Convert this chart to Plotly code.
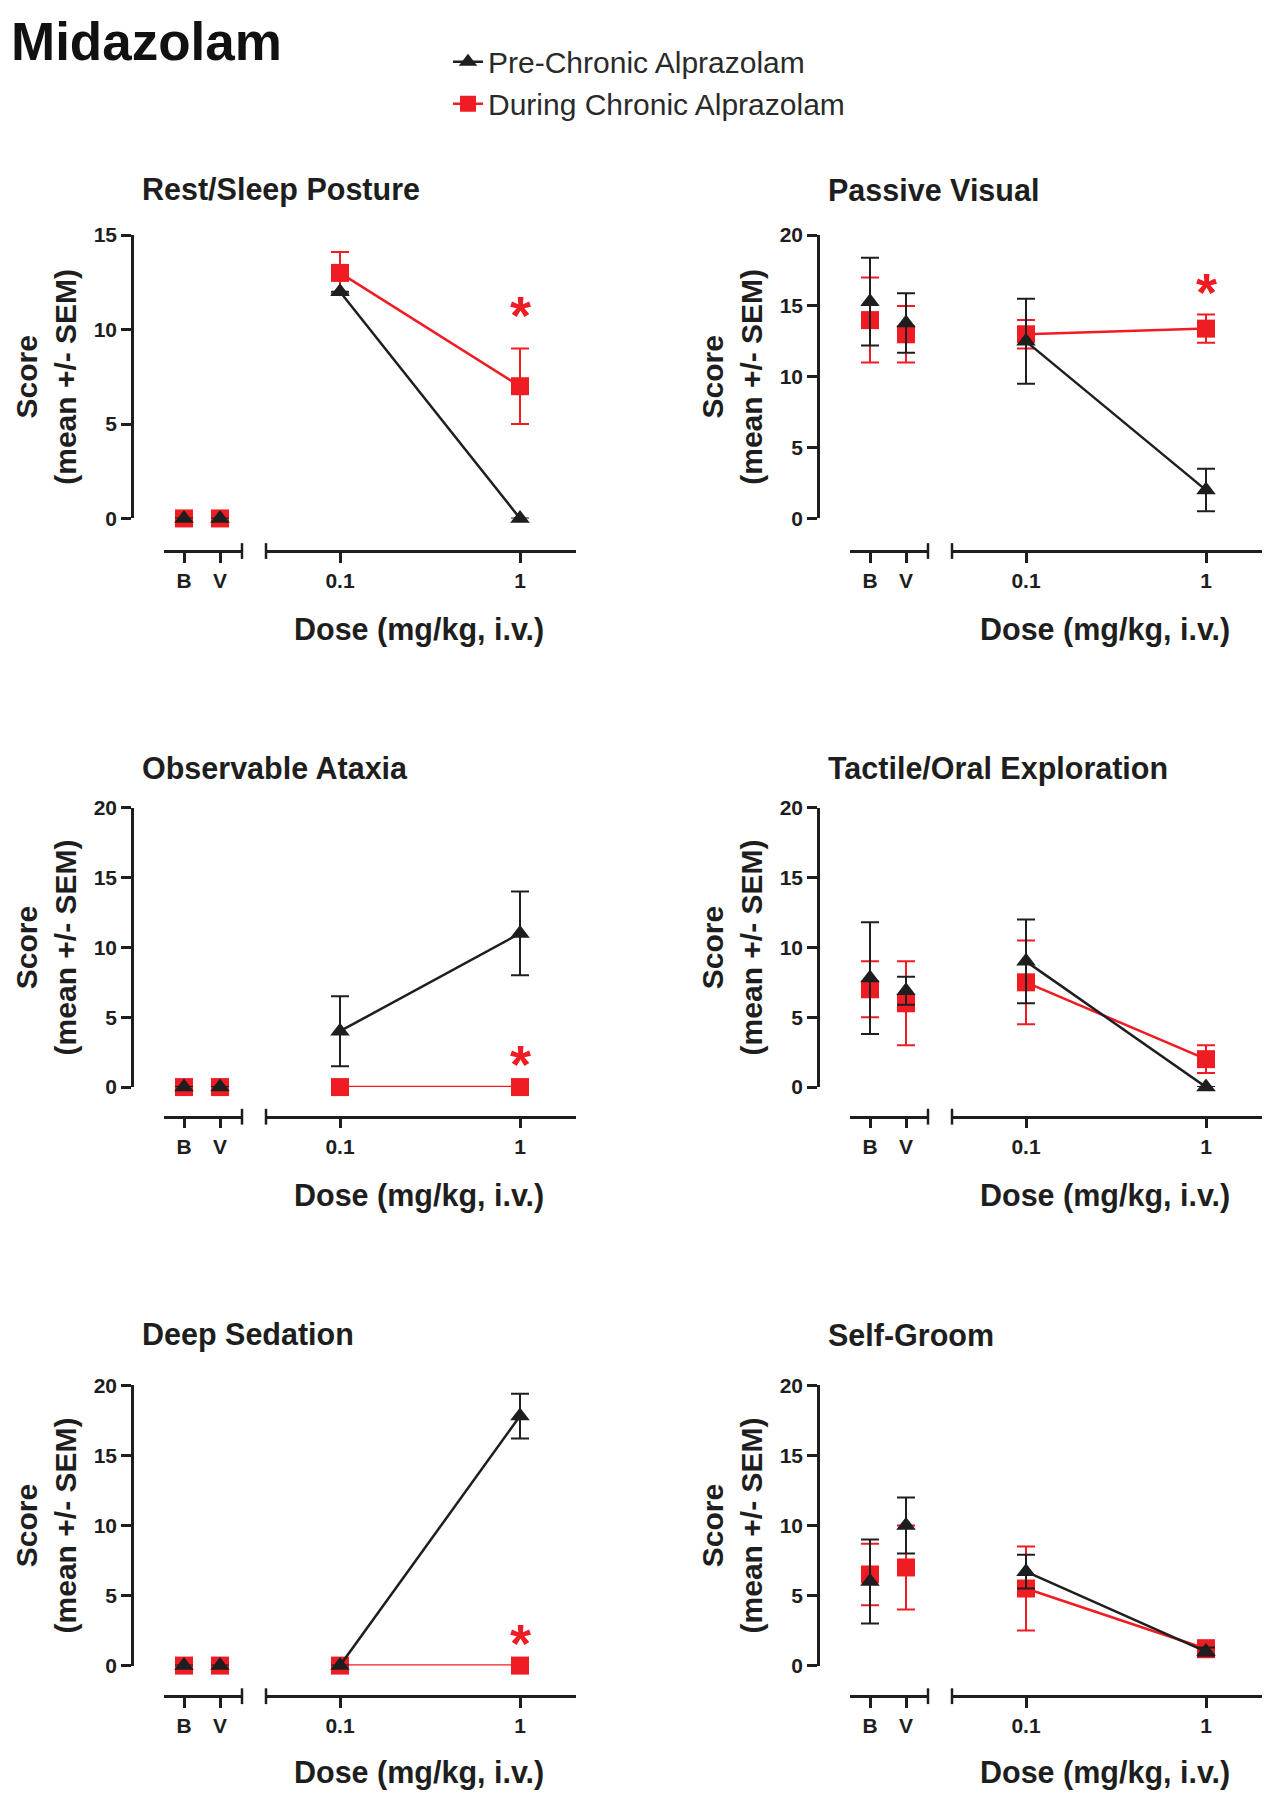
import plotly.graph_objects as go

W, H = 1272, 1800
FONT = "Liberation Sans, Arial, Helvetica, sans-serif"
INK = "#1e1e1e"
RED = "#f01c24"

# ---------------- data ----------------
panel_titles = ["Rest/Sleep Posture", "Passive Visual", "Observable Ataxia",
                "Tactile/Oral Exploration", "Deep Sedation", "Self-Groom"]
y_max = [15, 20, 20, 20, 20, 20]
baseline_cats = ["B", "V"]
doses = [0.1, 1]
dose_labels = ["0.1", "1"]

# Pre-Chronic Alprazolam (black triangles)
pre_base = [[0, 0], [15.3, 13.8], [0, 0], [7.8, 6.9], [0, 0], [6.0, 10.0]]
pre_base_sem = [[0, 0], [3.1, 2.1], [0, 0], [4.0, 1.0], [0, 0], [3.0, 2.0]]
pre_dose = [[12.0, 0], [12.5, 2.0], [4.0, 11.0], [9.0, 0], [0, 17.8], [6.7, 1.0]]
pre_dose_sem = [[0, 0], [3.0, 1.5], [2.5, 3.0], [3.0, 0], [0, 1.6], [1.2, 0.3]]

# During Chronic Alprazolam (red squares)
dur_base = [[0, 0], [14.0, 13.0], [0, 0], [7.0, 6.0], [0, 0], [6.5, 7.0]]
dur_base_sem = [[0, 0], [3.0, 2.0], [0, 0], [2.0, 3.0], [0, 0], [2.2, 3.0]]
dur_dose = [[13.0, 7.0], [13.0, 13.4], [0, 0], [7.5, 2.0], [0, 0], [5.5, 1.2]]
dur_dose_sem = [[1.1, 2.0], [1.0, 1.0], [0, 0], [3.0, 1.0], [0, 0], [3.0, 0.6]]

# significance asterisk heights (at 1 mg/kg)
star_y = [11.4, 16.8, 2.5, None, 2.5, None]

# ---------------- layout geometry (pixels) ----------------
col_yaxis_px = [132, 818]
row_top_px = [226, 806, 1391]
row_zero_px = [513, 1089, 1675]
row_axis_px = [546, 1119, 1706]
row_title_px = [180, 766, 1340]
row_xtitle_px = [625, 1199, 1783]


def px(x):
    return x / W


def py(y):
    return 1 - y / H


fig = go.Figure()
layout = {}
annotations = []
shapes = []

axis_style = dict(showline=True, linewidth=2.5, linecolor=INK, ticks="outside",
                  ticklen=10, tickwidth=2.5, tickcolor=INK, showgrid=False,
                  zeroline=False,
                  tickfont=dict(family=FONT, size=21, color=INK, weight="bold"))

for i in range(6):
    row, col = divmod(i, 2)
    ya = col_yaxis_px[col]
    top, zero, axl = row_top_px[row], row_zero_px[row], row_axis_px[row]
    yk = i + 1
    xl, xr = 2 * i + 1, 2 * i + 2
    yname = "y" if yk == 1 else f"y{yk}"
    xlname = "x" if xl == 1 else f"x{xl}"
    xrname = f"x{xr}"

    # segments
    lseg = (ya + 32, ya + 110)
    rseg = (ya + 134, ya + 444)
    b_pos, v_pos = ya + 52, ya + 88
    d01, d1 = ya + 208, ya + 388
    unit = v_pos - b_pos
    dec = d1 - d01

    layout["yaxis" if yk == 1 else f"yaxis{yk}"] = dict(
        domain=[py(zero), py(top)], range=[0, y_max[i]], dtick=5,
        anchor="free", position=px(ya), **axis_style)
    layout["xaxis" if xl == 1 else f"xaxis{xl}"] = dict(
        domain=[px(lseg[0]), px(lseg[1])], type="category",
        categoryorder="array", categoryarray=baseline_cats,
        range=[(lseg[0] - b_pos) / unit, (lseg[1] - b_pos) / unit],
        anchor="free", position=py(axl), **axis_style)
    layout[f"xaxis{xr}"] = dict(
        domain=[px(rseg[0]), px(rseg[1])], type="log",
        range=[-1 + (rseg[0] - d01) / dec, (rseg[1] - d1) / dec],
        tickvals=doses, ticktext=dose_labels,
        anchor="free", position=py(axl), **axis_style)

    series = [
        ("During Chronic Alprazolam", "dur", dur_base[i], dur_base_sem[i], dur_dose[i],
         dur_dose_sem[i], RED, "square", 18, 2.5),
        ("Pre-Chronic Alprazolam", "pre", pre_base[i], pre_base_sem[i], pre_dose[i],
         pre_dose_sem[i], INK, "triangle-up", 17, 2.5),
    ]
    for name, grp, bv, bs, dv, ds, color, sym, msize, lw in series:
        def eb(arr, c=color):
            return dict(type="data", array=arr, visible=True, color=c,
                        thickness=2, width=9)
        rank = 2 if grp == "dur" else 1
        fig.add_trace(go.Scatter(
            x=baseline_cats, y=bv, error_y=eb(bs), mode="markers",
            marker=dict(symbol=sym, size=msize, color=color),
            xaxis=xlname, yaxis=yname, cliponaxis=False, showlegend=False,
            name=name, legendgroup=grp, legendrank=rank))
        fig.add_trace(go.Scatter(
            x=doses, y=dv, error_y=eb(ds), mode="lines+markers",
            marker=dict(symbol=sym, size=msize, color=color),
            line=dict(color=color, width=lw),
            xaxis=xrname, yaxis=yname, cliponaxis=False,
            showlegend=(i == 0), name=name, legendgroup=grp, legendrank=rank))

    # axis break marks
    for xb in (lseg[1], rseg[0]):
        shapes.append(dict(type="line", xref="paper", yref="paper",
                           x0=px(xb), x1=px(xb), y0=py(axl - 8), y1=py(axl + 8),
                           line=dict(color=INK, width=2.5)))

    # titles
    annotations.append(dict(text=panel_titles[i], xref="paper", yref="paper",
                            x=px(ya + 8), y=py(row_title_px[row]),
                            xanchor="left", yanchor="middle", showarrow=False,
                            font=dict(family=FONT, size=30.5, color=INK, weight="bold")))
    annotations.append(dict(text="Dose (mg/kg, i.v.)", xref="paper", yref="paper",
                            x=px(ya + 287), y=py(row_xtitle_px[row]),
                            xanchor="center", yanchor="middle", showarrow=False,
                            font=dict(family=FONT, size=30.5, color=INK, weight="bold")))
    annotations.append(dict(text="Score<br>(mean +/- SEM)", xref="paper", yref="paper",
                            x=px(ya - 86), y=py((top + zero) / 2), textangle=-90,
                            xanchor="center", yanchor="middle", showarrow=False,
                            font=dict(family=FONT, size=30, color=INK, weight="bold")))
    if star_y[i] is not None:
        annotations.append(dict(text="*", xref=xrname, yref=yname, x=0, y=star_y[i],
                                xanchor="center", yanchor="middle", showarrow=False,
                                yshift=-12,
                                font=dict(family=FONT, size=54, color=RED, weight="bold")))

annotations.append(dict(text="Midazolam", xref="paper", yref="paper",
                        x=px(9), y=py(30), xanchor="left", yanchor="middle",
                        showarrow=False,
                        font=dict(family=FONT, size=53, color="#111", weight="bold")))

fig.update_layout(
    **layout,
    width=W, height=H,
    margin=dict(l=0, r=0, t=0, b=0),
    paper_bgcolor="white", plot_bgcolor="white",
    annotations=annotations, shapes=shapes,
    showlegend=True,
    legend=dict(x=px(448), y=py(24), xanchor="left", yanchor="top",
                font=dict(family=FONT, size=30, color="#2a2a2a"),
                bgcolor="rgba(0,0,0,0)", tracegroupgap=4, itemwidth=30,
                traceorder="normal"),
    font=dict(family=FONT, color=INK),
)

fig.write_html("out.html", config={"displayModeBar": False},
               post_script="document.body.style.margin='0';")
